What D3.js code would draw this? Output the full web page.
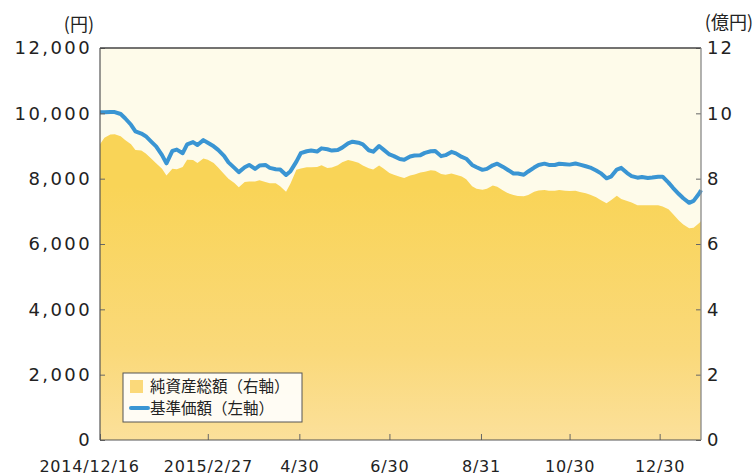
<!DOCTYPE html>
<html>
<head>
<meta charset="utf-8">
<script src="https://d3js.org/d3.v7.min.js"></script>
<style>
  body { margin: 0; background: #fff; }
  .num text { font-family: "DejaVu Sans", sans-serif; fill: #222; }
  .jp { font-family: "Noto Sans CJK JP", sans-serif; fill: #222; }
</style>
</head>
<body>
<div id="chart"></div>
<script>
var svgWidth = 753;
var svgHeight = 476;

var margin = { top: 48, right: 52, bottom: 36, left: 100 };
var width = 601;
var height = 392;

// dates (twice a week)
var dates = [
  "2014-12-16","2014-12-19","2014-12-23","2014-12-26","2014-12-30","2015-01-02","2015-01-06","2015-01-09",
  "2015-01-13","2015-01-16","2015-01-20","2015-01-23","2015-01-27","2015-01-30","2015-02-03","2015-02-06",
  "2015-02-10","2015-02-13","2015-02-17","2015-02-20","2015-02-24","2015-02-27","2015-03-03","2015-03-06",
  "2015-03-10","2015-03-13","2015-03-17","2015-03-20","2015-03-24","2015-03-27","2015-03-31","2015-04-03",
  "2015-04-07","2015-04-10","2015-04-14","2015-04-17","2015-04-21","2015-04-24","2015-04-28","2015-05-01",
  "2015-05-05","2015-05-08","2015-05-12","2015-05-15","2015-05-19","2015-05-22","2015-05-26","2015-05-29",
  "2015-06-02","2015-06-05","2015-06-09","2015-06-12","2015-06-16","2015-06-19","2015-06-23","2015-06-26",
  "2015-06-30","2015-07-03","2015-07-07","2015-07-10","2015-07-14","2015-07-17","2015-07-21","2015-07-24",
  "2015-07-28","2015-07-31","2015-08-04","2015-08-07","2015-08-11","2015-08-14","2015-08-18","2015-08-21",
  "2015-08-25","2015-08-28","2015-09-01","2015-09-04","2015-09-08","2015-09-11","2015-09-15","2015-09-18",
  "2015-09-22","2015-09-25","2015-09-29","2015-10-02","2015-10-06","2015-10-09","2015-10-13","2015-10-16",
  "2015-10-20","2015-10-23","2015-10-27","2015-10-30","2015-11-03","2015-11-06","2015-11-10","2015-11-13",
  "2015-11-17","2015-11-20","2015-11-24","2015-11-27","2015-12-01","2015-12-04","2015-12-08","2015-12-11",
  "2015-12-15","2015-12-18","2015-12-22","2015-12-25","2015-12-29","2016-01-01","2016-01-05","2016-01-08",
  "2016-01-12","2016-01-15","2016-01-19","2016-01-22","2016-01-26","2016-01-27"
];

// 基準価額 (円, left axis)
var navPrice = [
  10030,10030,10040,10040,9980,9850,9650,9450,
  9380,9300,9120,8990,8720,8469,8850,8890,
  8780,9050,9120,9030,9180,9100,8990,8880,
  8700,8500,8330,8200,8350,8420,8300,8400,
  8420,8330,8290,8280,8112,8230,8520,8780,
  8840,8860,8830,8928,8900,8860,8880,8950,
  9080,9132,9100,9050,8870,8826,9000,8890,
  8740,8690,8600,8580,8680,8710,8720,8790,
  8840,8850,8690,8720,8820,8775,8665,8610,
  8420,8350,8270,8300,8410,8460,8360,8275,
  8160,8160,8120,8220,8340,8420,8460,8420,
  8420,8455,8440,8430,8465,8430,8380,8340,
  8250,8170,8010,8060,8280,8330,8170,8080,
  8030,8050,8020,8035,8061,8061,7880,7720,
  7530,7400,7260,7320,7560,7650
];

// 純資産総額 (億円, right axis)
var netAssets = [
  9.05,9.25,9.35,9.36,9.30,9.18,9.05,8.88,
  8.86,8.77,8.60,8.47,8.30,8.10,8.30,8.29,
  8.36,8.58,8.57,8.48,8.62,8.58,8.48,8.34,
  8.14,8.00,7.87,7.74,7.90,7.91,7.91,7.95,
  7.90,7.86,7.86,7.77,7.60,7.85,8.27,8.31,
  8.35,8.35,8.36,8.41,8.33,8.34,8.41,8.50,
  8.57,8.54,8.49,8.40,8.32,8.28,8.40,8.31,
  8.17,8.12,8.06,8.02,8.10,8.13,8.19,8.21,
  8.26,8.24,8.14,8.12,8.16,8.12,8.07,7.98,
  7.77,7.69,7.66,7.69,7.79,7.75,7.64,7.56,
  7.50,7.47,7.46,7.50,7.60,7.64,7.65,7.63,
  7.63,7.65,7.63,7.62,7.63,7.59,7.55,7.51,
  7.43,7.35,7.25,7.34,7.48,7.38,7.32,7.27,
  7.19,7.19,7.19,7.19,7.19,7.15,7.06,6.92,
  6.72,6.60,6.48,6.50,6.65,6.70
];

var xTickDates = ["2015-02-27","2015-04-30","2015-06-30","2015-08-31","2015-10-30","2015-12-30"];
var xTickLabels = ["2015/2/27","4/30","6/30","8/31","10/30","12/30"];
var leftTicks = [0, 2000, 4000, 6000, 8000, 10000, 12000];
var rightTicks = [0, 2, 4, 6, 8, 10, 12];

var parse = d3.timeParse("%Y-%m-%d");
var data = dates.map(function (d, i) {
  return { date: parse(d), price: navPrice[i], assets: netAssets[i] };
});

var svg = d3.select("#chart")
  .append("svg")
  .attr("width", svgWidth)
  .attr("height", svgHeight);

var defs = svg.append("defs");
var grad = defs.append("linearGradient")
  .attr("id", "areaFill")
  .attr("gradientUnits", "userSpaceOnUse")
  .attr("x1", 0).attr("x2", 0)
  .attr("y1", margin.top + 90).attr("y2", margin.top + height);
grad.append("stop").attr("offset", "0%").attr("stop-color", "#f9d457");
grad.append("stop").attr("offset", "55%").attr("stop-color", "#fad97a");
grad.append("stop").attr("offset", "100%").attr("stop-color", "#fce4ac");

var chartGroup = svg.append("g")
  .attr("transform", `translate(${margin.left}, ${margin.top})`);

var xScale = d3.scaleTime()
  .domain([parse("2014-12-16"), parse("2016-01-27")])
  .range([0, width]);
var yLeft = d3.scaleLinear().domain([0, 12000]).range([height, 0]);
var yRight = d3.scaleLinear().domain([0, 12]).range([height, 0]);

// plot background
chartGroup.append("rect")
  .attr("width", width)
  .attr("height", height)
  .attr("fill", "#fefbea");

// net assets area
var area = d3.area()
  .x(d => xScale(d.date))
  .y0(height)
  .y1(d => yRight(d.assets));
chartGroup.append("path")
  .datum(data)
  .attr("d", area)
  .attr("fill", "url(#areaFill)");

// price line
var line = d3.line()
  .x(d => xScale(d.date))
  .y(d => yLeft(d.price));
chartGroup.append("path")
  .datum(data)
  .attr("d", line)
  .attr("fill", "none")
  .attr("stroke", "#3a95d3")
  .attr("stroke-width", 4)
  .attr("stroke-linejoin", "round");

// axes
var leftAxis = d3.axisLeft(yLeft)
  .tickValues(leftTicks)
  .tickSize(-5)
  .tickPadding(8)
  .tickFormat(d3.format(","));
var gl = chartGroup.append("g").attr("class", "num").call(leftAxis);

var rightAxis = d3.axisRight(yRight)
  .tickValues(rightTicks)
  .tickSize(-5)
  .tickPadding(6);
var gr = chartGroup.append("g").attr("class", "num")
  .attr("transform", `translate(${width}, 0)`)
  .call(rightAxis);

var bottomAxis = d3.axisBottom(xScale)
  .tickValues([parse("2014-12-16")].concat(xTickDates.map(parse)))
  .tickSize(-6)
  .tickPadding(21)
  .tickFormat(function (d, i) { return i === 0 ? "2014/12/16" : xTickLabels[i - 1]; });
var gb = chartGroup.append("g").attr("class", "num")
  .attr("transform", `translate(0, ${height})`)
  .call(bottomAxis);
gb.selectAll(".tick text").filter((d, i) => i === 0).attr("dx", -11);

[gl, gr, gb].forEach(function (g) {
  g.select(".domain").remove();
  g.selectAll(".tick line").attr("stroke", "#666");
});
gl.selectAll("text").style("font-size", "18px").style("letter-spacing", "2.4px");
gr.selectAll("text").style("font-size", "18px").style("letter-spacing", "2px");
gb.selectAll("text").style("font-size", "16px").style("letter-spacing", "0.8px");

// frame
chartGroup.append("line").attr("x1", 0).attr("x2", width).attr("y1", 0).attr("y2", 0)
  .attr("stroke", "#444").attr("stroke-width", 1.3);
chartGroup.append("line").attr("x1", 0).attr("x2", 0).attr("y1", 0).attr("y2", height)
  .attr("stroke", "#555").attr("stroke-width", 1.2);
chartGroup.append("line").attr("x1", 0).attr("x2", width).attr("y1", height).attr("y2", height)
  .attr("stroke", "#555").attr("stroke-width", 1.2);
chartGroup.append("line").attr("x1", width).attr("x2", width).attr("y1", 0).attr("y2", height)
  .attr("stroke", "#888").attr("stroke-width", 1.3);

// unit labels
svg.append("text").attr("class", "jp")
  .attr("x", 94).attr("y", 31)
  .attr("text-anchor", "end")
  .style("font-size", "18px")
  .text("(円)");
svg.append("text").attr("class", "jp")
  .attr("x", 753).attr("y", 29)
  .attr("text-anchor", "end")
  .style("font-size", "18px")
  .text("(億円)");

// legend
var legend = svg.append("g").attr("transform", "translate(123, 373)");
legend.append("rect")
  .attr("width", 179).attr("height", 49)
  .attr("fill", "#fff").attr("fill-opacity", 0.9)
  .attr("stroke", "#555").attr("stroke-width", 1);
legend.append("rect")
  .attr("x", 7).attr("y", 7).attr("width", 13).attr("height", 13)
  .attr("fill", "#fbd97a");
legend.append("line")
  .attr("x1", 8).attr("x2", 25).attr("y1", 35).attr("y2", 35)
  .attr("stroke", "#3a95d3").attr("stroke-width", 4).attr("stroke-linecap", "round");
legend.append("text").attr("class", "jp")
  .attr("x", 27).attr("y", 19)
  .style("font-size", "15.5px")
  .text("純資産総額（右軸）");
legend.append("text").attr("class", "jp")
  .attr("x", 27).attr("y", 41)
  .style("font-size", "15.5px")
  .text("基準価額（左軸）");
</script>
</body>
</html>
